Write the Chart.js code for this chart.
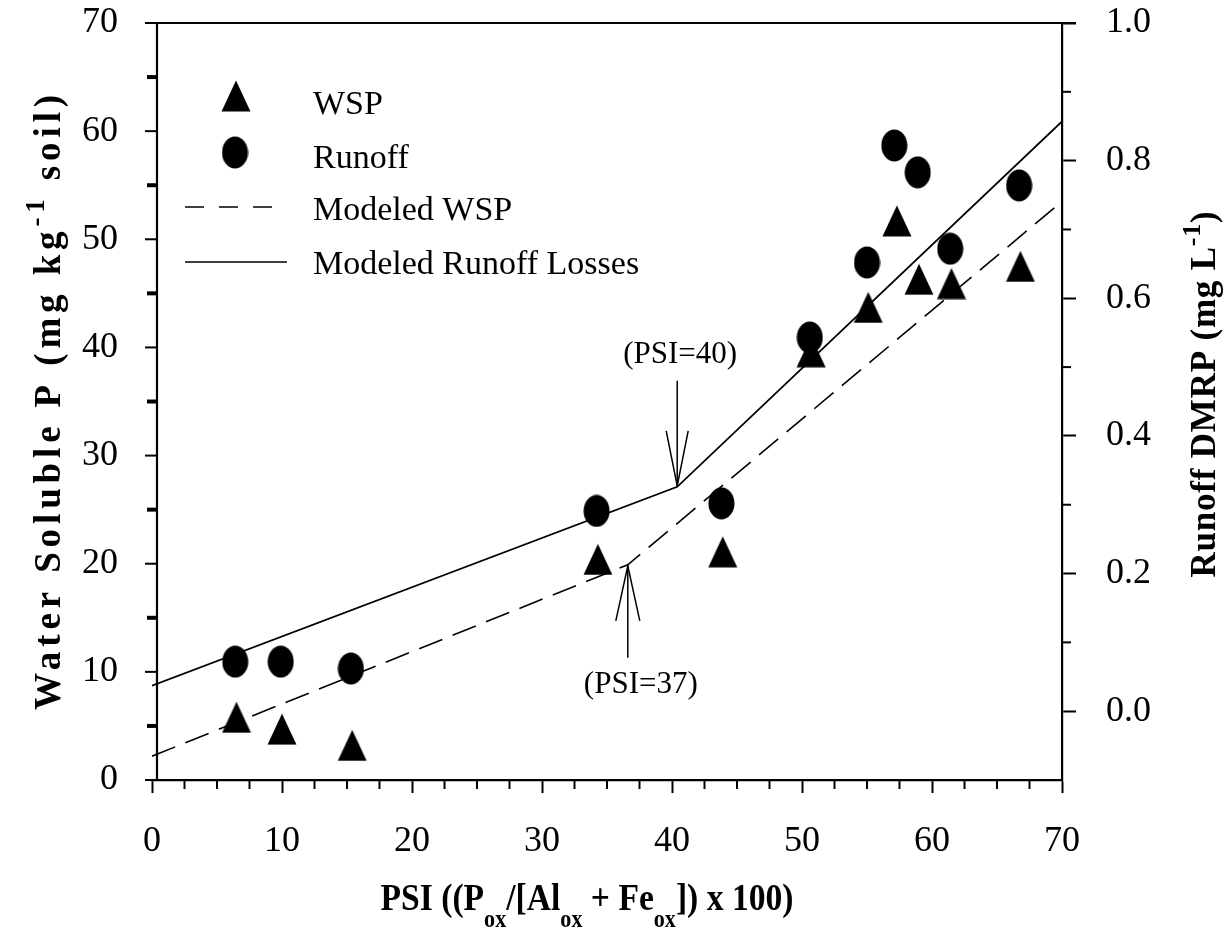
<!DOCTYPE html>
<html><head><meta charset="utf-8">
<script src="https://cdn.jsdelivr.net/npm/chart.js@4"></script>
<style>html,body{margin:0;padding:0;background:#fff;}canvas{display:block;}</style>
</head><body>
<canvas id="c" width="1225" height="930"></canvas>
<script>
// ---- data ----
const psiWsp = [6.5, 10.0, 15.4, 34.3, 43.9, 50.7, 55.1, 57.3, 59.0, 61.5, 66.8];
const wspValues = [5.8, 4.7, 3.2, 20.4, 21.1, 39.6, 43.7, 51.7, 46.3, 45.9, 47.5];
const psiRunoff = [6.4, 9.9, 15.3, 34.2, 43.8, 50.6, 55.0, 57.1, 58.9, 61.4, 66.7];
const runoffValues = [0.072, 0.072, 0.062, 0.291, 0.302, 0.543, 0.652, 0.822, 0.783, 0.672, 0.764];
const modelWspPsi = [0, 36.6, 70];
const modelWspValues = [2.2, 19.9, 53.5];
const modelRunoffPsi = [0, 40.4, 70];
const modelRunoffValues = [0.037, 0.326, 0.857];
const xTicks = [0, 10, 20, 30, 40, 50, 60, 70];
const xMinorTicks = [2.5, 5, 7.5, 12.5, 15, 17.5, 22.5, 25, 27.5, 32.5, 35, 37.5, 42.5, 45, 47.5, 52.5, 55, 57.5, 62.5, 65, 67.5];
const yLeftTicks = [0, 10, 20, 30, 40, 50, 60, 70];
const yLeftMinorTicks = [5, 15, 25, 35, 45, 55, 65];
const yRightTicks = [0.0, 0.2, 0.4, 0.6, 0.8, 1.0];
const yRightMinorTicks = [0.1, 0.3, 0.5, 0.7, 0.9];
const legendLabels = ['WSP', 'Runoff', 'Modeled WSP', 'Modeled Runoff Losses'];
const breakLabels = ['(PSI=40)', '(PSI=37)'];

const SERIF = '"Liberation Serif", "Times New Roman", serif';

// marker images
function makeTriangle() {
  const c = document.createElement('canvas'); c.width = 30; c.height = 32;
  const g = c.getContext('2d'); g.fillStyle = '#000';
  g.beginPath(); g.moveTo(15, 0.5); g.lineTo(29.5, 31.5); g.lineTo(0.5, 31.5); g.closePath(); g.fill();
  return c;
}
function makeEllipse() {
  const c = document.createElement('canvas'); c.width = 27; c.height = 33;
  const g = c.getContext('2d'); g.fillStyle = '#000';
  g.beginPath(); g.ellipse(13.5, 16.5, 13, 16, 0, 0, Math.PI * 2); g.fill();
  return c;
}
const triImg = makeTriangle();
const ellImg = makeEllipse();

function pts(xs, ys) { return xs.map((v, i) => ({ x: v, y: ys[i] })); }

function line(ctx, x1, y1, x2, y2) { ctx.beginPath(); ctx.moveTo(x1, y1); ctx.lineTo(x2, y2); ctx.stroke(); }
function runsWidth(ctx, runs) { let w = 0; for (const r of runs) { ctx.font = r.font; w += ctx.measureText(r.t).width; } return w; }
function drawRuns(ctx, runs, x, y) { let cx = x; for (const r of runs) { ctx.font = r.font; ctx.fillText(r.t, cx, y + (r.dy || 0)); cx += ctx.measureText(r.t).width; } }
function countChars(runs) { return runs.reduce((s, r) => s + r.t.length, 0); }
function fitSpacing(ctx, runs, target) {
  ctx.letterSpacing = '0px';
  const w0 = runsWidth(ctx, runs);
  const ls = Math.max(0, (target - w0) / countChars(runs));
  ctx.letterSpacing = ls + 'px';
}

const customPlugin = {
  id: 'custom',
  afterDraw(chart) {
    const { ctx, chartArea: a, scales: { x, y, y1 } } = chart;
    ctx.save();
    ctx.strokeStyle = '#000'; ctx.fillStyle = '#000';
    ctx.lineCap = 'butt';
    // left axis line (offset like the reference)
    const lx = a.left + 5;
    ctx.lineWidth = 2.2;
    line(ctx, lx, a.top - 1, lx, a.bottom + 1);
    // top frame line
    line(ctx, a.left - 7, a.top, a.right + 14, a.top);
    // left major ticks
    ctx.lineWidth = 2;
    yLeftTicks.forEach(v => { const p = y.getPixelForValue(v); line(ctx, lx - 12, p, lx, p); });
    // left minor ticks (thick)
    ctx.lineWidth = 4;
    yLeftMinorTicks.forEach(v => { const p = y.getPixelForValue(v); line(ctx, lx - 10, p, lx + 1, p); });
    // x minor ticks
    ctx.lineWidth = 2;
    xMinorTicks.forEach(v => { const p = x.getPixelForValue(v); line(ctx, p, a.bottom, p, a.bottom + 9); });
    // right minor ticks
    yRightMinorTicks.forEach(v => { const p = y1.getPixelForValue(v); line(ctx, a.right, p, a.right + 9, p); });

    // legend
    const lgX = 313;
    ctx.drawImage(triImg, 236 - triImg.width / 2, 96 - triImg.height / 2);
    ctx.drawImage(ellImg, 235 - ellImg.width / 2, 152.5 - ellImg.height / 2);
    ctx.lineWidth = 1.6;
    ctx.setLineDash([19, 15]);
    line(ctx, 185, 207, 277, 207);
    ctx.setLineDash([]);
    line(ctx, 185, 262, 287, 262);
    ctx.font = '34px ' + SERIF;
    ctx.textBaseline = 'alphabetic'; ctx.textAlign = 'left';
    const lgBase = [114, 168, 220, 274];
    legendLabels.forEach((t, i) => ctx.fillText(t, lgX, lgBase[i]));

    // breakpoint annotations with open arrows
    ctx.lineWidth = 1.5;
    const t1x = x.getPixelForValue(modelRunoffPsi[1]), t1y = y1.getPixelForValue(modelRunoffValues[1]);
    line(ctx, t1x, t1y - 106, t1x, t1y);
    line(ctx, t1x - 11, t1y - 56, t1x, t1y - 1);
    line(ctx, t1x + 11, t1y - 56, t1x, t1y - 1);
    const t2x = x.getPixelForValue(modelWspPsi[1]), t2y = y.getPixelForValue(modelWspValues[1]);
    line(ctx, t2x, t2y + 93, t2x, t2y);
    line(ctx, t2x - 12, t2y + 56, t2x, t2y + 1);
    line(ctx, t2x + 12, t2y + 56, t2x, t2y + 1);
    ctx.font = '31px ' + SERIF;
    ctx.textAlign = 'center';
    ctx.fillText(breakLabels[0], t1x + 3, t1y - 124);
    ctx.fillText(breakLabels[1], t2x + 13, t2y + 128);
    ctx.textAlign = 'left';

    // x axis title (condensed like the reference)
    const B = 'bold 38px ' + SERIF, S = 'bold 25px ' + SERIF;
    const xr = [
      { t: 'PSI ((P', font: B }, { t: 'ox', font: S, dy: 17 },
      { t: '/[Al', font: B }, { t: 'ox', font: S, dy: 17 },
      { t: ' + Fe', font: B }, { t: 'ox', font: S, dy: 17 },
      { t: ']) x 100)', font: B }
    ];
    ctx.letterSpacing = '0px';
    const xw = runsWidth(ctx, xr);
    const sx = 413 / xw;
    ctx.save();
    ctx.translate(587, 910);
    ctx.scale(sx, 1);
    drawRuns(ctx, xr, -xw / 2, 0);
    ctx.restore();

    // left y title
    const LB = 'bold 37px ' + SERIF, LS = 'bold 27px ' + SERIF;
    const lr = [
      { t: 'Water Soluble P (mg kg', font: LB }, { t: '-1', font: LS, dy: -16 },
      { t: ' soil)', font: LB }
    ];
    ctx.save();
    ctx.translate(60, 400);
    ctx.rotate(-Math.PI / 2);
    fitSpacing(ctx, lr, 620);
    const lw = runsWidth(ctx, lr);
    drawRuns(ctx, lr, -lw / 2, 0);
    ctx.restore();

    // right y title
    const RB = 'bold 35px ' + SERIF, RS = 'bold 26px ' + SERIF;
    const rr = [
      { t: 'Runoff DMRP (mg L', font: RB }, { t: '-1', font: RS, dy: -15 },
      { t: ')', font: RB }
    ];
    ctx.save();
    ctx.translate(1215, 394);
    ctx.rotate(-Math.PI / 2);
    fitSpacing(ctx, rr, 367);
    const rw = runsWidth(ctx, rr);
    drawRuns(ctx, rr, -rw / 2, 0);
    ctx.restore();
    ctx.letterSpacing = '0px';

    ctx.restore();
  }
};

const tickFont = { family: SERIF, size: 36 };

new Chart(document.getElementById('c'), {
  type: 'scatter',
  data: {
    datasets: [
      { label: 'WSP', data: pts(psiWsp, wspValues), yAxisID: 'y', pointStyle: triImg, pointRadius: 15, order: 1, backgroundColor: '#000', borderColor: '#000' },
      { label: 'Runoff', data: pts(psiRunoff, runoffValues), yAxisID: 'y1', pointStyle: ellImg, pointRadius: 15, order: 1, backgroundColor: '#000', borderColor: '#000' },
      { label: 'Modeled WSP', data: pts(modelWspPsi, modelWspValues), yAxisID: 'y', showLine: true, pointRadius: 0, borderColor: '#000', borderWidth: 1.6, borderDash: [25, 11], order: 2, fill: false },
      { label: 'Modeled Runoff Losses', data: pts(modelRunoffPsi, modelRunoffValues), yAxisID: 'y1', showLine: true, pointRadius: 0, borderColor: '#000', borderWidth: 1.8, order: 2, fill: false }
    ]
  },
  options: {
    responsive: false,
    animation: false,
    devicePixelRatio: 1,
    layout: { padding: { top: 23, left: 0, right: 0, bottom: 0 } },
    plugins: { legend: { display: false }, tooltip: { enabled: false } },
    scales: {
      x: {
        type: 'linear', position: 'bottom', min: 0, max: 70,
        afterBuildTicks: s => { s.ticks = xTicks.map(v => ({ value: v })); },
        ticks: { font: tickFont, color: '#000', padding: 27, maxRotation: 0 },
        grid: { drawOnChartArea: false, tickLength: 13, tickColor: '#000', tickWidth: 2 },
        border: { display: true, color: '#000', width: 2.2 },
        afterFit: s => { s.height = 150; s.paddingLeft = 0; s.paddingRight = 0; }
      },
      y: {
        type: 'linear', position: 'left', min: 0, max: 70,
        afterBuildTicks: s => { s.ticks = yLeftTicks.map(v => ({ value: v })); },
        ticks: { font: tickFont, color: '#000', padding: 26 },
        grid: { display: false },
        border: { display: false },
        afterFit: s => { s.width = 152; s.paddingTop = 0; s.paddingBottom = 0; }
      },
      y1: {
        type: 'linear', position: 'right', min: -0.1, max: 1.0,
        afterBuildTicks: s => { s.ticks = yRightTicks.map(v => ({ value: v })); },
        ticks: { font: tickFont, color: '#000', padding: 30, callback: v => Number(v).toFixed(1) },
        grid: { drawOnChartArea: false, tickLength: 14, tickColor: '#000', tickWidth: 2 },
        border: { display: true, color: '#000', width: 2.2 },
        afterFit: s => { s.width = 163; s.paddingTop = 0; s.paddingBottom = 0; }
      }
    }
  },
  plugins: [customPlugin]
});
</script>
</body></html>
